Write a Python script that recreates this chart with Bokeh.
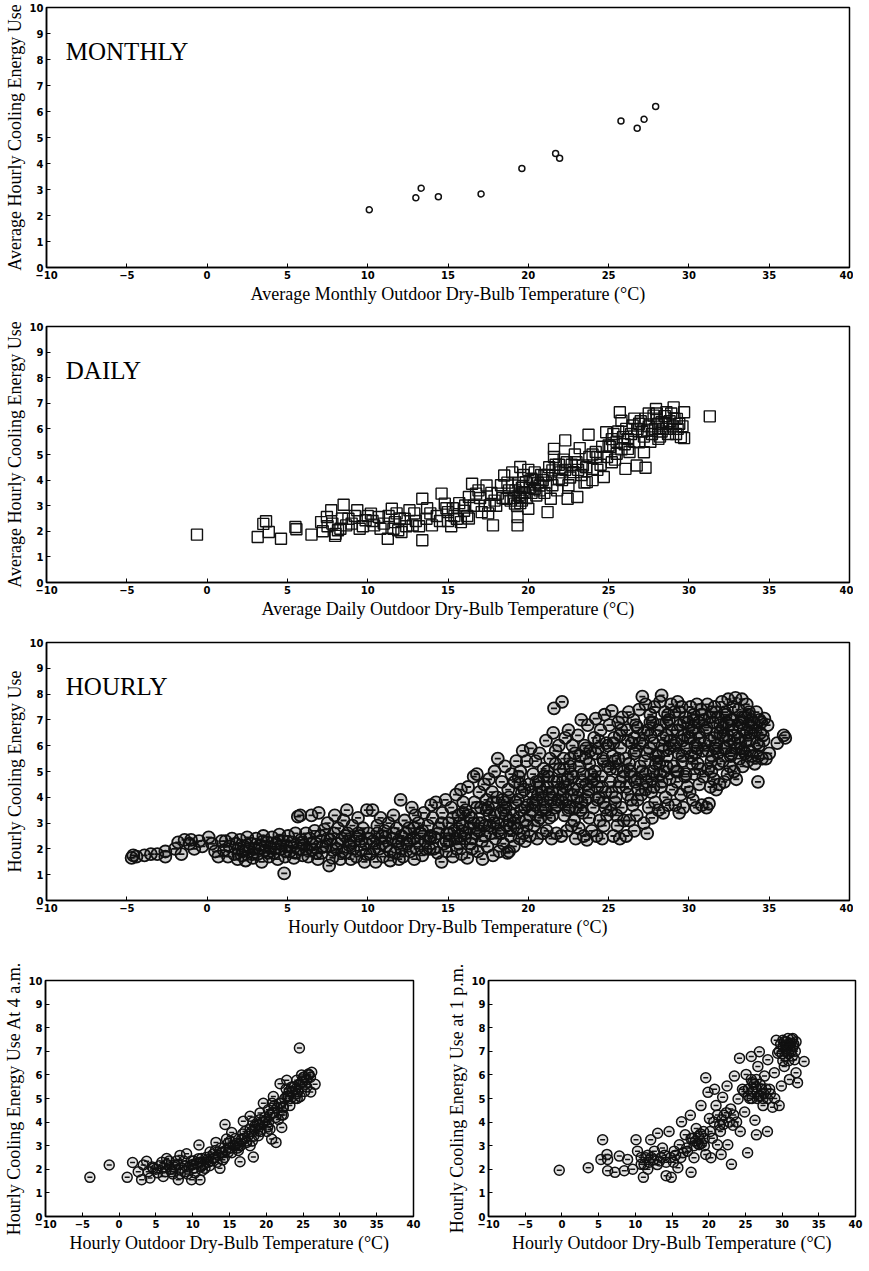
from bokeh.plotting import figure
from bokeh.models import Label, Range1d, FixedTicker
from bokeh.layouts import column, row
from bokeh.embed import file_html
from bokeh.resources import INLINE

SERIF = "Liberation Serif"
TICKF = "DejaVu Sans"

x_ticks = [-10, -5, 0, 5, 10, 15, 20, 25, 30, 35, 40]
y_ticks = [0, 1, 2, 3, 4, 5, 6, 7, 8, 9, 10]

# ---------------- data (temperature degC, cooling energy use) ----------------
monthly_points = [(10.1, 2.22), (13.0, 2.68), (13.33, 3.05), (14.4, 2.72), (17.06, 2.83),
                  (19.6, 3.81), (21.7, 4.38), (21.95, 4.2), (25.77, 5.63), (26.78, 5.36),
                  (27.21, 5.70), (27.93, 6.19)]

daily_points = [
    (-0.63, 1.87), (3.15, 1.78), (3.5, 2.29), (3.67, 2.39), (3.84, 1.97), (4.6, 1.71), (5.56, 2.08),
    (5.5, 2.17), (6.5, 1.87), (7.1, 2.36), (7.46, 2.56), (7.73, 2.82), (7.97, 1.82), (8.15, 2.04),
    (8.5, 3.04), (8.66, 2.23), (8.8, 2.49), (9.35, 2.82), (9.5, 2.1), (9.87, 2.43), (10.2, 2.69),
    (10.4, 2.23), (10.7, 2.56), (11.25, 1.71), (11.5, 2.88), (11.7, 2.36), (11.9, 2.04), (12.1, 1.97),
    (12.3, 2.49), (12.6, 2.82), (12.8, 2.23), (13.4, 3.27), (13.4, 1.65), (13.66, 2.49), (14.0, 2.23),
    (14.6, 3.47), (14.8, 3.08), (15.0, 2.75), (15.55, 2.49), (15.8, 2.36), (16.07, 3.01), (16.3, 3.34),
    (16.5, 3.86), (16.75, 3.47), (17.1, 2.75), (17.4, 3.79), (17.6, 3.01), (17.8, 2.23), (18.1, 3.47),
    (18.5, 4.18), (18.65, 3.27), (19.0, 3.79), (19.17, 3.08), (19.33, 2.23), (19.33, 2.56), (19.5, 4.51),
    (19.5, 3.34), (19.7, 3.53), (19.85, 3.92), (20.0, 2.88), (20.2, 4.05), (20.4, 3.66), (20.7, 3.79),
    (21.0, 4.18), (21.2, 2.75), (21.4, 3.27), (21.5, 4.38), (21.6, 5.22), (21.9, 4.05), (22.3, 5.55),
    (22.4, 4.7), (22.45, 3.27), (22.8, 4.31), (23.05, 3.34), (23.2, 5.25), (23.4, 4.57), (23.64, 3.92),
    (23.75, 5.77), (24.0, 4.44), (24.3, 4.9), (24.7, 4.12), (24.85, 5.87), (25.0, 5.35), (25.2, 4.7),
    (25.5, 5.03), (25.7, 6.65), (25.8, 6.32), (25.9, 5.68), (26.05, 4.44), (26.2, 5.22), (26.5, 6.13),
    (26.75, 4.57), (26.9, 5.48), (27.2, 5.09), (27.3, 4.48), (27.4, 5.94), (27.8, 6.52), (27.95, 6.78),
    (28.1, 5.61), (28.3, 6.26), (28.6, 6.65), (28.8, 6.0), (29.05, 6.84), (29.25, 6.39), (29.5, 5.68),
    (29.7, 6.65), (29.7, 5.64), (31.3, 6.49),
    (18.8, 3.6), (19.1, 3.3), (19.3, 3.0), (19.4, 3.9), (19.6, 3.2), (19.8, 3.5), (20.1, 3.7), (20.3, 4.0),
    (20.5, 3.4), (20.8, 4.2), (21.1, 3.9), (21.3, 4.5), (21.7, 4.6), (22.0, 4.3), (22.2, 4.8), (22.6, 4.1),
    (23.0, 4.7), (23.3, 4.2), (23.8, 4.9), (24.2, 5.1), (24.5, 4.6), (25.2, 5.6), (25.6, 5.9), (26.0, 5.4),
    (26.4, 5.8), (26.8, 6.0), (27.0, 6.3), (27.5, 6.1), (27.7, 5.8), (28.0, 6.4), (28.4, 6.0), (28.5, 6.5),
    (28.8, 6.3), (29.0, 6.1), (29.2, 5.8), (29.4, 6.2), (28.2, 5.7), (27.2, 5.7), (26.3, 5.1), (25.4, 4.8),
    (24.0, 4.0), (23.5, 3.9), (22.5, 3.8), (21.8, 3.6), (21.0, 3.5), (20.6, 3.9), (19.7, 4.2), (17.0, 3.3),
    (16.0, 2.8), (15.3, 2.9), (14.3, 2.6), (13.0, 2.4), (12.0, 2.5), (11.0, 2.3), (10.0, 2.6), (9.0, 2.3),
    (8.3, 2.1), (7.5, 2.2), (11.8, 2.7), (13.9, 2.7), (15.0, 2.4), (16.6, 3.0), (17.9, 3.2), (18.3, 3.8),
    (7.2, 2.0), (7.8, 2.3), (8.0, 1.9), (8.4, 2.5), (9.2, 2.6), (9.7, 2.2), (10.3, 2.4), (10.8, 2.1),
    (11.3, 2.6), (11.6, 2.1), (12.4, 2.2), (12.9, 2.7), (13.2, 2.2), (13.7, 2.9), (14.5, 2.4), (14.9, 2.9),
    (15.4, 2.6), (15.7, 3.1), (16.2, 2.6), (16.9, 3.6), (17.3, 3.0), (17.7, 3.5), (18.0, 3.0), (18.4, 3.3),
    (18.7, 3.9), (18.9, 3.2), (19.2, 3.6), (19.4, 3.4), (19.5, 3.1), (19.6, 3.7), (19.9, 3.3), (20.2, 3.5),
    (20.4, 4.3), (20.7, 3.6), (20.9, 4.0), (21.2, 4.2), (21.5, 3.8), (21.9, 4.6), (22.1, 4.0), (22.3, 4.4),
    (22.7, 4.6), (23.1, 4.4), (23.6, 4.5), (24.0, 5.0), (24.3, 4.4), (24.6, 5.3), (24.9, 4.9), (25.1, 5.3),
    (25.3, 5.8), (25.5, 5.5), (25.8, 5.2), (26.1, 6.0), (26.2, 5.6), (26.6, 5.5), (26.9, 6.2), (27.1, 5.9),
    (27.3, 6.4), (27.6, 5.5), (27.9, 6.0), (28.1, 6.2), (28.3, 5.9), (28.6, 6.2), (28.7, 5.8), (28.9, 6.6),
    (29.1, 6.4), (29.3, 6.0), (29.6, 6.1), (28.0, 6.6), (27.5, 6.6), (26.6, 6.4), (22.9, 5.0), (21.6, 4.9),
    (20.0, 4.4), (19.0, 4.3), (17.5, 2.7), (16.3, 2.5), (15.2, 2.2),
]

hourly_points = [
    (-4.7, 1.65), (-4.6, 1.75), (-4.4, 1.7), (-3.9, 1.75), (-3.5, 1.8), (-3.1, 1.8), (-2.6, 1.9), (-2.6, 1.7),
    (-2.0, 2.0), (-1.8, 2.25), (-1.6, 1.8), (-1.4, 2.35), (-1.1, 2.2), (-1.0, 2.35), (-0.8, 2.0), (-0.5, 2.3),
    (-0.3, 2.1), (0.1, 2.45), (0.3, 2.2), (0.5, 1.9), (0.7, 1.7), (0.9, 2.3),
    (1.05, 1.95), (1.15, 2.3), (1.3, 1.7), (1.4, 2.1), (1.55, 2.4), (1.7, 1.8), (1.8, 2.2), (1.9, 1.6), (1.95, 2.0),
    (2.05, 2.35), (2.15, 1.75), (2.3, 2.1), (2.4, 1.55), (2.5, 2.45), (2.6, 1.9), (2.75, 2.2), (2.85, 1.65), (2.95, 2.0),
    (3.05, 2.4), (3.15, 1.8), (3.3, 2.15), (3.4, 1.5), (3.5, 2.5), (3.6, 1.95), (3.75, 2.25), (3.85, 1.7), (3.95, 2.05),
    (4.05, 2.45), (4.15, 1.85), (4.3, 2.2), (4.4, 1.6), (4.5, 2.55), (4.6, 2.0), (4.75, 2.3), (4.8, 1.05), (4.85, 1.7), (4.95, 2.1),
    (5.05, 2.5), (5.15, 1.9), (5.3, 2.25), (5.4, 1.65), (5.5, 2.6), (5.65, 3.25), (5.7, 2.0), (5.8, 3.3), (5.85, 2.35), (5.95, 1.75),
    (6.05, 2.15), (6.15, 2.6), (6.3, 1.7), (6.4, 2.4), (6.5, 3.3), (6.55, 1.95), (6.7, 2.7), (6.8, 2.2), (6.9, 1.6), (6.95, 3.4),
    (7.05, 2.5), (7.15, 1.85), (7.3, 2.75), (7.4, 2.1), (7.5, 3.0), (7.6, 1.35), (7.65, 2.35), (7.8, 1.65), (7.9, 2.6), (7.95, 3.3),
    (8.05, 2.0), (8.15, 2.8), (8.3, 1.6), (8.4, 2.4), (8.5, 3.1), (8.6, 1.85), (8.7, 3.5), (8.75, 2.6), (8.85, 2.15), (8.95, 1.6),
    (9.05, 2.9), (9.15, 2.3), (9.3, 1.7), (9.4, 3.2), (9.5, 2.5), (9.6, 1.95), (9.7, 2.8), (9.8, 1.5), (9.9, 2.2), (9.95, 3.5),
    (10.05, 2.6), (10.15, 1.8), (10.3, 3.5), (10.35, 2.3), (10.5, 1.5), (10.6, 2.9), (10.7, 2.0), (10.8, 3.2), (10.9, 2.5), (10.95, 1.7),
    (11.05, 2.7), (11.15, 2.1), (11.3, 3.0), (11.4, 1.55), (11.5, 2.4), (11.6, 3.3), (11.7, 1.85), (11.8, 2.8), (11.9, 2.2), (11.95, 1.6),
    (12.05, 3.9), (12.1, 2.5), (12.2, 1.7), (12.3, 3.1), (12.45, 2.2), (12.55, 2.8), (12.65, 1.9), (12.75, 3.6), (12.85, 2.4), (12.95, 3.3), (12.9, 1.6),
    (13.05, 2.0), (13.15, 3.0), (13.3, 2.6), (13.4, 1.75), (13.5, 3.4), (13.6, 2.3), (13.75, 2.9), (13.85, 2.0), (13.95, 3.7), (13.9, 2.5),
    (14.05, 3.2), (14.15, 2.45), (14.25, 3.8), (14.35, 1.85), (14.45, 2.8), (14.6, 1.5), (14.65, 3.4), (14.75, 2.2), (14.85, 3.9), (14.95, 2.6), (14.9, 1.9),
    (15.05, 3.0), (15.1, 2.3), (15.2, 3.6), (15.3, 1.7), (15.4, 2.7), (15.5, 4.1), (15.55, 2.0), (15.65, 3.3), (15.75, 2.5), (15.8, 4.3),
    (15.85, 1.8), (15.9, 2.9), (15.95, 3.8), (15.7, 2.2),
    (16.05, 2.4), (16.1, 3.5), (16.2, 1.65), (16.25, 4.4), (16.35, 2.8), (16.45, 3.2), (16.5, 2.0), (16.6, 4.8), (16.65, 3.8), (16.75, 2.6),
    (16.8, 4.9), (16.85, 1.9), (16.9, 3.0), (16.95, 4.2), (16.4, 2.2),
    (17.05, 3.6), (17.1, 2.3), (17.15, 1.6), (17.25, 4.5), (17.3, 2.9), (17.4, 3.9), (17.45, 2.1), (17.55, 4.7), (17.6, 3.3), (17.65, 2.6),
    (17.75, 4.2), (17.8, 1.75), (17.85, 3.0), (17.9, 5.0), (17.95, 2.4), (17.5, 3.6),
    (18.05, 4.0), (18.1, 5.5), (18.15, 2.7), (18.2, 1.9), (18.3, 3.4), (18.35, 4.6), (18.45, 2.2), (18.5, 3.8), (18.55, 5.2), (18.65, 2.9),
    (18.7, 1.85), (18.75, 4.3), (18.85, 3.1), (18.9, 2.5), (18.95, 4.9), (18.6, 3.6), (18.8, 1.9),
    (19.05, 3.3), (19.1, 2.1), (19.15, 4.6), (19.25, 5.4), (19.3, 2.8), (19.35, 3.9), (19.45, 2.4), (19.5, 5.0), (19.55, 3.5), (19.65, 5.8),
    (19.7, 2.6), (19.75, 4.3), (19.85, 3.1), (19.9, 5.4), (19.95, 3.7), (19.4, 4.8), (19.8, 2.3),
    (20.05, 4.5), (20.1, 2.5), (20.15, 5.9), (20.25, 3.5), (20.3, 4.9), (20.35, 2.9), (20.45, 5.4), (20.5, 3.9), (20.55, 2.4), (20.65, 4.6),
    (20.7, 5.7), (20.75, 3.2), (20.85, 4.2), (20.9, 2.6), (20.95, 5.1), (20.4, 3.7), (20.8, 3.5), (20.6, 4.1),
    (21.05, 3.6), (21.1, 6.2), (21.15, 2.7), (21.25, 4.8), (21.3, 3.2), (21.35, 5.5), (21.45, 2.4), (21.5, 4.2), (21.55, 6.5), (21.6, 7.45),
    (21.65, 3.6), (21.7, 5.8), (21.75, 2.6), (21.8, 4.6), (21.85, 3.9), (21.9, 6.0), (21.95, 5.1), (21.4, 3.9), (21.2, 4.4),
    (22.05, 2.5), (22.1, 7.7), (22.15, 4.1), (22.2, 5.5), (22.25, 3.3), (22.3, 6.3), (22.4, 2.7), (22.45, 4.7), (22.5, 6.6), (22.55, 3.6),
    (22.6, 5.2), (22.7, 2.9), (22.75, 6.0), (22.8, 4.3), (22.85, 3.1), (22.9, 5.7), (22.95, 2.4), (22.35, 3.9), (22.65, 4.9), (22.15, 4.6),
    (23.05, 4.0), (23.1, 6.4), (23.15, 2.8), (23.2, 5.2), (23.25, 3.5), (23.3, 7.0), (23.35, 4.6), (23.45, 2.5), (23.5, 6.0), (23.55, 3.9),
    (23.6, 5.5), (23.65, 2.35), (23.7, 6.8), (23.75, 4.3), (23.8, 3.2), (23.85, 5.8), (23.9, 4.9), (23.95, 2.7), (23.4, 3.4), (23.6, 4.5),
    (24.05, 3.6), (24.1, 6.3), (24.15, 5.0), (24.2, 7.05), (24.25, 2.5), (24.3, 4.4), (24.35, 5.9), (24.45, 3.1), (24.5, 6.6), (24.55, 4.8),
    (24.6, 2.4), (24.65, 5.5), (24.7, 3.8), (24.75, 7.2), (24.8, 4.2), (24.85, 6.1), (24.9, 3.3), (24.95, 5.2), (24.4, 4.0), (24.7, 2.9),
    (25.05, 6.8), (25.1, 4.6), (25.15, 3.5), (25.2, 7.35), (25.25, 5.6), (25.3, 2.5), (25.35, 6.3), (25.45, 4.0), (25.5, 5.1), (25.55, 2.9),
    (25.6, 6.9), (25.65, 4.4), (25.7, 2.4), (25.75, 5.9), (25.8, 3.6), (25.85, 7.1), (25.9, 4.8), (25.95, 3.1), (25.4, 5.4), (25.7, 6.4), (25.5, 3.3),
    (26.05, 5.5), (26.1, 2.5), (26.15, 6.6), (26.2, 4.1), (26.25, 7.3), (26.3, 3.1), (26.35, 5.0), (26.45, 6.1), (26.5, 3.7), (26.55, 7.0),
    (26.6, 2.7), (26.65, 4.6), (26.7, 5.8), (26.75, 3.3), (26.8, 6.7), (26.85, 4.3), (26.9, 7.4), (26.95, 5.2), (26.4, 4.8), (26.6, 6.3), (26.8, 3.9),
    (27.05, 4.1), (27.1, 7.9), (27.15, 6.2), (27.2, 3.0), (27.25, 5.4), (27.3, 7.6), (27.35, 4.6), (27.4, 2.6), (27.45, 6.6), (27.5, 3.6),
    (27.55, 5.9), (27.6, 7.2), (27.65, 4.2), (27.7, 3.2), (27.75, 6.9), (27.8, 5.0), (27.85, 7.5), (27.9, 3.8), (27.95, 5.6), (27.3, 4.9),
    (27.6, 6.4), (27.8, 4.4),
    (28.05, 6.6), (28.1, 3.5), (28.15, 5.3), (28.2, 7.7), (28.25, 4.4), (28.3, 7.95), (28.35, 6.0), (28.4, 3.4), (28.45, 5.0), (28.5, 7.3),
    (28.55, 4.0), (28.6, 6.4), (28.65, 5.6), (28.7, 3.7), (28.75, 7.0), (28.8, 4.7), (28.85, 6.2), (28.9, 7.6), (28.95, 4.3), (28.4, 5.8),
    (28.6, 6.9), (28.2, 4.9),
    (29.05, 5.2), (29.1, 7.3), (29.15, 3.7), (29.2, 6.1), (29.25, 4.6), (29.3, 7.7), (29.35, 5.7), (29.4, 3.4), (29.45, 6.8), (29.5, 4.1),
    (29.55, 7.5), (29.6, 5.4), (29.65, 3.6), (29.7, 6.4), (29.75, 4.8), (29.8, 7.1), (29.85, 5.9), (29.9, 4.4), (29.95, 6.9), (29.3, 5.0), (29.6, 6.2),
    (30.05, 4.2), (30.1, 7.5), (30.15, 5.6), (30.2, 6.6), (30.25, 3.9), (30.3, 7.2), (30.35, 4.9), (30.4, 6.0), (30.45, 3.6), (30.5, 7.6),
    (30.55, 5.3), (30.6, 6.9), (30.65, 4.5), (30.7, 6.3), (30.75, 7.4), (30.8, 3.7), (30.85, 5.8), (30.9, 4.8), (30.95, 7.0), (30.5, 5.9), (30.3, 6.7),
    (31.05, 6.6), (31.1, 3.6), (31.15, 7.6), (31.2, 5.1), (31.25, 3.75), (31.3, 6.2), (31.35, 4.4), (31.4, 7.3), (31.45, 5.6), (31.5, 6.9),
    (31.55, 4.7), (31.6, 7.5), (31.65, 5.9), (31.7, 4.3), (31.75, 6.5), (31.8, 7.1), (31.85, 5.3), (31.9, 4.5), (31.95, 6.8), (31.4, 5.0), (31.7, 6.0),
    (32.05, 7.7), (32.1, 5.4), (32.15, 6.4), (32.2, 4.6), (32.25, 7.3), (32.3, 5.9), (32.35, 6.9), (32.4, 4.9), (32.45, 7.8), (32.5, 6.2),
    (32.55, 5.2), (32.6, 7.0), (32.65, 5.7), (32.7, 6.6), (32.75, 7.5), (32.8, 5.0), (32.85, 6.1), (32.9, 7.85), (32.95, 4.7), (32.5, 6.8),
    (33.05, 6.3), (33.1, 7.4), (33.15, 5.5), (33.2, 6.9), (33.25, 5.9), (33.3, 7.8), (33.35, 5.2), (33.4, 6.6), (33.45, 7.1), (33.5, 5.7),
    (33.55, 6.2), (33.6, 7.6), (33.65, 5.4), (33.7, 6.8), (33.75, 7.3), (33.8, 5.8), (33.85, 6.5), (33.9, 7.0), (33.95, 5.6),
    (34.05, 6.9), (34.1, 5.3), (34.2, 7.3), (34.25, 6.1), (34.3, 5.6), (34.4, 7.0), (34.45, 6.5), (34.55, 5.5), (34.6, 6.4), (34.7, 7.05),
    (34.8, 5.5), (34.9, 6.8), (35.0, 5.7), (35.5, 6.1), (35.9, 6.4), (36.0, 6.3), (34.3, 4.6),
    # dense core
    (2.2, 1.9), (2.5, 2.15), (2.8, 1.8), (3.2, 2.0), (3.5, 2.3), (3.8, 1.85), (4.2, 2.0), (4.5, 2.3), (4.9, 1.9),
    (5.2, 2.1), (5.5, 1.85), (5.9, 2.25), (6.2, 2.0), (6.5, 2.2), (6.8, 1.85), (7.2, 2.1), (7.5, 2.4), (7.8, 1.95),
    (8.1, 2.2), (8.4, 1.9), (8.6, 2.5), (8.9, 2.3), (9.1, 2.0), (9.4, 2.6), (9.6, 2.3), (9.9, 1.8), (10.1, 2.4),
    (10.4, 2.0), (10.6, 2.6), (10.9, 2.2), (11.1, 2.45), (11.4, 1.9), (11.6, 2.6), (11.9, 2.3), (12.1, 2.0),
    (12.4, 2.6), (12.6, 2.3), (12.9, 2.8), (13.1, 2.3), (13.4, 2.7), (13.6, 2.0), (13.9, 2.4), (14.1, 2.0),
    (14.4, 2.6), (14.6, 3.0), (14.9, 2.3),
    (15.1, 2.6), (15.3, 3.2), (15.5, 2.4), (15.7, 3.0), (15.9, 2.7), (15.95, 3.4),
    (16.1, 2.6), (16.3, 3.3), (16.5, 2.4), (16.6, 3.0), (16.8, 3.6), (16.9, 2.7),
    (17.1, 3.0), (17.3, 2.5), (17.4, 3.5), (17.6, 2.9), (17.8, 3.8), (17.9, 3.3),
    (18.1, 3.0), (18.3, 2.6), (18.4, 3.9), (18.6, 3.3), (18.8, 4.0), (18.9, 2.8), (18.5, 3.5),
    (19.1, 3.0), (19.2, 3.8), (19.4, 3.2), (19.6, 4.2), (19.8, 3.6), (19.9, 2.9), (19.5, 4.5),
    (20.1, 3.3), (20.2, 4.2), (20.3, 3.8), (20.5, 4.6), (20.6, 3.1), (20.7, 4.4), (20.9, 3.9), (20.95, 4.8),
    (21.1, 3.5), (21.2, 5.0), (21.3, 4.1), (21.5, 3.3), (21.6, 4.6), (21.7, 5.3), (21.8, 3.7), (21.95, 4.3),
    (22.1, 3.8), (22.2, 5.1), (22.3, 4.4), (22.5, 3.5), (22.6, 5.5), (22.7, 4.1), (22.8, 4.8), (22.95, 3.6),
    (23.1, 4.3), (23.2, 5.6), (23.3, 3.8), (23.4, 4.9), (23.6, 5.9), (23.7, 4.0), (23.8, 5.3), (23.95, 4.6),
    (24.1, 4.7), (24.2, 5.7), (24.3, 3.9), (24.4, 6.2), (24.6, 4.4), (24.7, 5.4), (24.8, 3.6), (24.95, 6.0),
    (25.1, 5.1), (25.2, 4.2), (25.3, 6.1), (25.4, 3.8), (25.6, 5.5), (25.7, 4.6), (25.8, 6.6), (25.95, 5.0),
    (26.1, 4.4), (26.2, 6.2), (26.3, 5.3), (26.4, 3.9), (26.6, 5.7), (26.7, 6.8), (26.8, 4.7), (26.95, 6.1),
    (27.1, 5.0), (27.2, 6.5), (27.3, 4.3), (27.4, 5.7), (27.6, 6.9), (27.7, 4.7), (27.8, 6.1), (27.95, 5.3),
    (28.1, 5.6), (28.2, 6.8), (28.3, 4.6), (28.4, 6.3), (28.6, 5.2), (28.7, 7.2), (28.8, 5.9), (28.95, 6.6),
    (29.1, 6.0), (29.2, 5.0), (29.3, 6.6), (29.4, 7.3), (29.6, 5.6), (29.7, 6.9), (29.8, 4.9), (29.95, 6.3),
    (30.1, 6.3), (30.2, 5.3), (30.3, 7.0), (30.4, 5.7), (30.6, 6.5), (30.7, 5.1), (30.8, 7.2), (30.95, 6.1),
    (31.1, 6.7), (31.2, 5.8), (31.3, 7.1), (31.4, 5.4), (31.6, 6.3), (31.7, 7.3), (31.8, 5.7), (31.95, 6.5),
    (32.1, 6.7), (32.2, 5.9), (32.3, 7.2), (32.4, 6.4), (32.6, 5.6), (32.7, 7.0), (32.8, 6.4), (32.95, 5.9),
    (33.1, 6.8), (33.2, 6.1), (33.3, 7.1), (33.4, 5.8), (33.6, 6.5), (33.7, 7.2), (33.8, 6.2), (33.95, 6.7),
    (34.15, 6.6), (34.35, 6.0), (34.5, 6.9), (34.65, 6.2),
]

am4_points = [
    (-3.97, 1.66), (-1.34, 2.18), (1.1, 1.66), (1.83, 2.29), (2.6, 1.9), (3.06, 1.56), (3.28, 2.18), (3.74, 2.34),
    (3.96, 1.9), (4.19, 1.63), (4.64, 2.04), (6.0, 1.7), (6.46, 2.46), (7.13, 1.9), (7.59, 2.18), (8.04, 1.56),
    (8.27, 2.59), (8.95, 1.9), (9.17, 2.66), (9.85, 1.56), (10.08, 2.04), (10.85, 3.03), (10.99, 1.56), (11.2, 2.46),
    (11.67, 2.04), (12.35, 2.73), (12.8, 2.46), (13.16, 3.14), (13.7, 2.04), (13.93, 2.73), (14.39, 3.9), (14.6, 3.28),
    (14.84, 2.73), (15.3, 3.56), (15.75, 3.0), (16.43, 2.32), (16.65, 3.28), (16.88, 4.04), (17.33, 3.14), (17.79, 4.25),
    (18.24, 2.52), (18.47, 3.83), (18.92, 3.42), (19.15, 4.39), (19.6, 4.8), (19.83, 4.04), (20.28, 4.52), (20.5, 3.7),
    (20.73, 3.28), (21.32, 3.14), (20.96, 5.08), (21.64, 4.11), (21.87, 5.63), (22.1, 3.77), (22.32, 4.66), (22.78, 5.77),
    (23.0, 5.08), (23.45, 5.49), (23.9, 5.0), (24.13, 5.77), (24.5, 7.14), (24.59, 5.08), (25.04, 5.9), (25.49, 5.49),
    (25.72, 6.04), (26.04, 5.28), (26.17, 6.11), (26.63, 5.6),
    (4.5, 2.1), (5.0, 2.0), (5.5, 2.15), (6.0, 2.05), (6.5, 2.2), (7.0, 2.0), (7.5, 2.1), (8.0, 2.2), (8.5, 2.05),
    (9.0, 2.15), (9.5, 2.1), (10.0, 2.2), (10.5, 2.25), (11.0, 2.3), (11.5, 2.2), (12.0, 2.4), (12.5, 2.35), (13.0, 2.5),
    (13.5, 2.6), (14.0, 2.7), (14.5, 2.8), (15.0, 2.9), (15.5, 3.0), (16.0, 3.1), (16.5, 3.0), (17.0, 3.3), (17.5, 3.4),
    (18.0, 3.6), (18.5, 3.7), (19.0, 3.9), (19.5, 4.0), (20.0, 4.1), (20.5, 4.3), (21.0, 4.4), (21.5, 4.6), (22.0, 4.8),
    (22.5, 5.0), (23.0, 5.1), (23.5, 5.3), (24.0, 5.4), (24.5, 5.6), (25.0, 5.7), (25.5, 5.8), (26.0, 5.9), (16.2, 2.8),
    (17.8, 3.0), (19.2, 3.6), (20.2, 3.8), (22.3, 4.3), (23.2, 4.7), (24.2, 5.0), (25.2, 5.3), (18.2, 4.0), (20.8, 4.8),
    (22.7, 5.4), (24.8, 6.0),
    (5.2, 1.85), (5.8, 2.3), (6.3, 1.9), (6.8, 2.35), (7.3, 1.8), (7.8, 2.35), (8.3, 1.8), (8.8, 2.35), (9.3, 1.8),
    (9.8, 2.35), (10.3, 1.85), (10.8, 2.45), (11.3, 1.95), (11.8, 2.5), (12.3, 2.15), (12.8, 2.65), (13.3, 2.3),
    (13.8, 2.9), (14.3, 2.5), (14.8, 3.1), (15.3, 2.7), (15.8, 3.3), (16.3, 3.05), (16.8, 3.5), (17.3, 3.2), (17.8, 3.7),
    (18.3, 3.4), (18.8, 3.9), (19.3, 3.7), (19.8, 4.2), (20.3, 4.0), (20.8, 4.4), (21.3, 4.2), (21.8, 4.8), (22.3, 4.6),
    (22.8, 5.1), (23.3, 5.0), (23.8, 5.5), (24.3, 5.3), (24.8, 5.7), (25.3, 5.6), (25.8, 6.0), (15.1, 3.2), (16.1, 2.9),
    (17.1, 3.6), (18.1, 3.2), (19.1, 4.1), (20.1, 3.6), (21.1, 4.7), (22.1, 4.3), (23.1, 5.3), (24.1, 5.2), (25.1, 5.9),
    (14.1, 2.4), (13.1, 2.8), (12.1, 2.3), (11.1, 2.1), (10.1, 2.35),
]

pm1_points = [
    (-0.36, 1.96), (3.59, 2.07), (5.55, 3.25), (5.32, 2.42), (6.14, 2.63), (6.23, 1.94), (6.23, 2.42), (7.23, 1.87),
    (7.82, 2.56), (8.5, 1.94), (8.95, 2.42), (9.64, 2.0), (10.1, 3.25), (10.3, 2.77), (10.8, 2.21), (11.1, 1.66),
    (11.45, 2.49), (11.7, 2.0), (12.1, 3.25), (12.6, 2.77), (13.05, 3.53), (13.3, 2.35), (13.7, 2.9), (14.2, 1.73),
    (14.6, 3.6), (14.9, 1.66), (15.3, 2.77), (15.8, 2.07), (16.0, 3.04), (16.3, 4.01), (16.8, 3.46), (17.1, 2.77),
    (17.5, 4.29), (17.6, 1.87), (17.8, 3.32), (18.0, 2.49), (18.3, 3.73), (18.7, 3.04), (18.95, 4.7), (19.3, 3.6),
    (19.6, 5.88), (19.6, 2.63), (19.9, 5.26), (20.1, 4.15), (20.3, 2.49), (20.5, 3.32), (20.8, 5.39), (21.0, 4.7),
    (21.2, 3.04), (21.5, 3.87), (21.7, 2.63), (21.9, 5.05), (22.1, 4.29), (22.5, 5.53), (22.6, 3.04), (23.0, 4.56),
    (23.1, 2.21), (23.3, 3.87), (23.5, 5.95), (24.0, 4.98), (24.2, 6.71), (24.3, 3.6), (24.6, 5.39), (24.9, 4.43),
    (25.1, 6.02), (25.3, 2.7), (25.4, 5.12), (25.8, 6.78), (26.0, 5.67), (26.3, 4.08), (26.5, 3.46), (26.7, 6.36),
    (26.9, 6.98), (27.05, 5.12), (27.4, 4.7), (27.6, 5.95), (28.0, 3.6), (28.05, 6.64), (28.3, 5.39), (28.7, 4.63),
    (28.95, 6.09), (29.2, 7.47), (29.4, 6.92), (29.6, 4.7), (29.9, 5.53), (30.1, 7.47), (30.3, 6.36), (30.5, 7.05),
    (30.8, 7.54), (31.0, 5.81), (31.2, 7.33), (31.45, 7.54), (31.7, 6.64), (31.9, 6.09), (32.1, 5.67), (33.0, 6.57),
    (30.2, 7.2), (30.6, 7.4), (30.9, 6.9), (31.2, 7.0), (31.5, 7.2), (30.4, 6.8), (31.0, 7.3), (31.8, 7.0), (30.7, 7.1),
    (26.0, 5.3), (26.4, 5.5), (26.8, 5.1), (27.2, 5.4), (25.6, 5.0), (27.5, 5.2), (28.0, 5.0), (18.2, 3.2), (18.6, 3.4),
    (19.0, 3.1), (19.4, 3.3), (21.8, 4.1), (22.4, 4.4), (22.8, 4.0), (12.5, 2.4), (13.5, 2.5), (14.2, 2.3), (15.5, 2.6),
    (16.5, 2.7), (10.8, 2.5), (11.9, 2.3),
    (29.8, 7.3), (30.0, 6.9), (30.3, 7.4), (30.5, 7.2), (30.8, 7.3), (31.1, 7.1), (31.3, 7.5), (31.6, 7.3), (30.9, 6.6),
    (31.4, 6.8), (30.1, 6.6), (29.6, 7.0), (31.9, 7.4), (25.4, 5.4), (25.9, 5.0), (26.2, 5.6), (26.6, 5.0), (27.0, 5.6),
    (27.4, 5.0), (27.8, 5.4), (25.8, 5.8), (26.5, 5.8), (24.8, 5.3), (28.4, 5.2), (29.0, 5.0), (18.0, 3.0), (18.5, 3.1),
    (18.9, 3.5), (19.4, 3.0), (17.6, 3.3), (20.2, 3.6), (20.7, 4.0), (21.2, 4.3), (21.6, 3.6), (22.0, 3.9), (23.4, 4.3),
    (23.8, 4.0), (11.2, 2.2), (11.7, 2.6), (12.2, 2.5), (13.0, 2.2), (14.0, 2.6), (14.8, 2.5), (15.2, 2.3), (16.2, 2.5),
    (17.0, 2.9),
]

titles = ["MONTHLY", "DAILY", "HOURLY"]
x_titles = ["Average Monthly Outdoor Dry-Bulb Temperature (°C)",
            "Average Daily Outdoor Dry-Bulb Temperature (°C)",
            "Hourly Outdoor Dry-Bulb Temperature (°C)",
            "Hourly Outdoor Dry-Bulb Temperature (°C)",
            "Hourly Outdoor Dry-Bulb Temperature (°C)"]
y_titles = ["Average Hourly Cooling Energy Use",
            "Average Hourly Cooling Energy Use",
            "Hourly Cooling Energy Use",
            "Hourly Cooling Energy Use At 4 a.m.",
            "Hourly Cooling Energy Use at 1 p.m."]


def panel(fw, fh, bl, bt, bb, br, xlab, ylab):
    p = figure(frame_width=fw, frame_height=fh, x_range=Range1d(-10, 40), y_range=Range1d(0, 10),
               min_border_left=bl, min_border_top=bt, min_border_bottom=bb, min_border_right=br,
               output_backend="svg", toolbar_location=None)
    p.xgrid.grid_line_color = None
    p.ygrid.grid_line_color = None
    p.outline_line_color = "black"
    p.outline_line_width = 1.5
    p.outline_line_alpha = 1
    p.background_fill_color = "white"
    p.border_fill_color = "white"
    p.xaxis.ticker = FixedTicker(ticks=x_ticks)
    p.yaxis.ticker = FixedTicker(ticks=y_ticks)
    for ax in (p.xaxis[0], p.yaxis[0]):
        ax.axis_line_width = 1.5
        ax.axis_line_color = "black"
        ax.major_tick_in = 4
        ax.major_tick_out = 0
        ax.major_tick_line_color = "black"
        ax.minor_tick_line_color = None
        ax.major_label_text_font = TICKF
        ax.major_label_text_font_size = "10px"
        ax.major_label_text_font_style = "bold"
        ax.major_label_text_color = "black"
        ax.major_label_standoff = 3
        ax.axis_label_text_font = SERIF
        ax.axis_label_text_font_size = "18px"
        ax.axis_label_text_font_style = "normal"
        ax.axis_label_text_color = "black"
        ax.axis_label_standoff = 2
    p.xaxis.axis_label = xlab
    p.yaxis.axis_label = ylab
    return p


def circles(p, pts, size, dash, lw, fill_alpha):
    xs = [a for a, b in pts]
    ys = [b for a, b in pts]
    p.scatter(xs, ys, marker="circle", size=size, fill_color="#111111", fill_alpha=fill_alpha,
              line_color="#111111", line_width=lw)
    p.scatter(xs, ys, marker="dash", size=dash, line_color="#111111", line_width=lw)


def add_title(p, text):
    p.add_layout(Label(x=-8.8, y=8.3, text=text, text_font=SERIF, text_font_size="25px",
                       text_baseline="alphabetic", text_color="black"))


# Monthly
p1 = panel(803, 260, 46, 7, 42, 4, x_titles[0], y_titles[0])
p1.scatter([a for a, b in monthly_points], [b for a, b in monthly_points], marker="circle", size=6,
           fill_color=None, line_color="#111111", line_width=1.5)
add_title(p1, titles[0])

# Daily
p2 = panel(803, 256, 46, 17, 42, 4, x_titles[1], y_titles[1])
p2.scatter([a for a, b in daily_points], [b for a, b in daily_points], marker="square", size=11,
           fill_color=None, line_color="#111111", line_width=1.4)
add_title(p2, titles[1])

# Hourly
p3 = panel(803, 258, 46, 18, 42, 4, x_titles[2], y_titles[2])
circles(p3, hourly_points, 12, 6, 1.8, 0.2)
add_title(p3, titles[2])

# 4 a.m.
p4 = panel(368, 236, 34, 38, 37, 30, x_titles[3], y_titles[3])
circles(p4, am4_points, 10, 5, 1.5, 0.12)

# 1 p.m.
p5 = panel(367, 236, 44, 38, 37, 10, x_titles[4], y_titles[4])
circles(p5, pm1_points, 10, 5, 1.5, 0.12)

layout = column(p1, p2, p3, row(p4, p5))
open("out.html", "w").write(file_html(layout, INLINE))
